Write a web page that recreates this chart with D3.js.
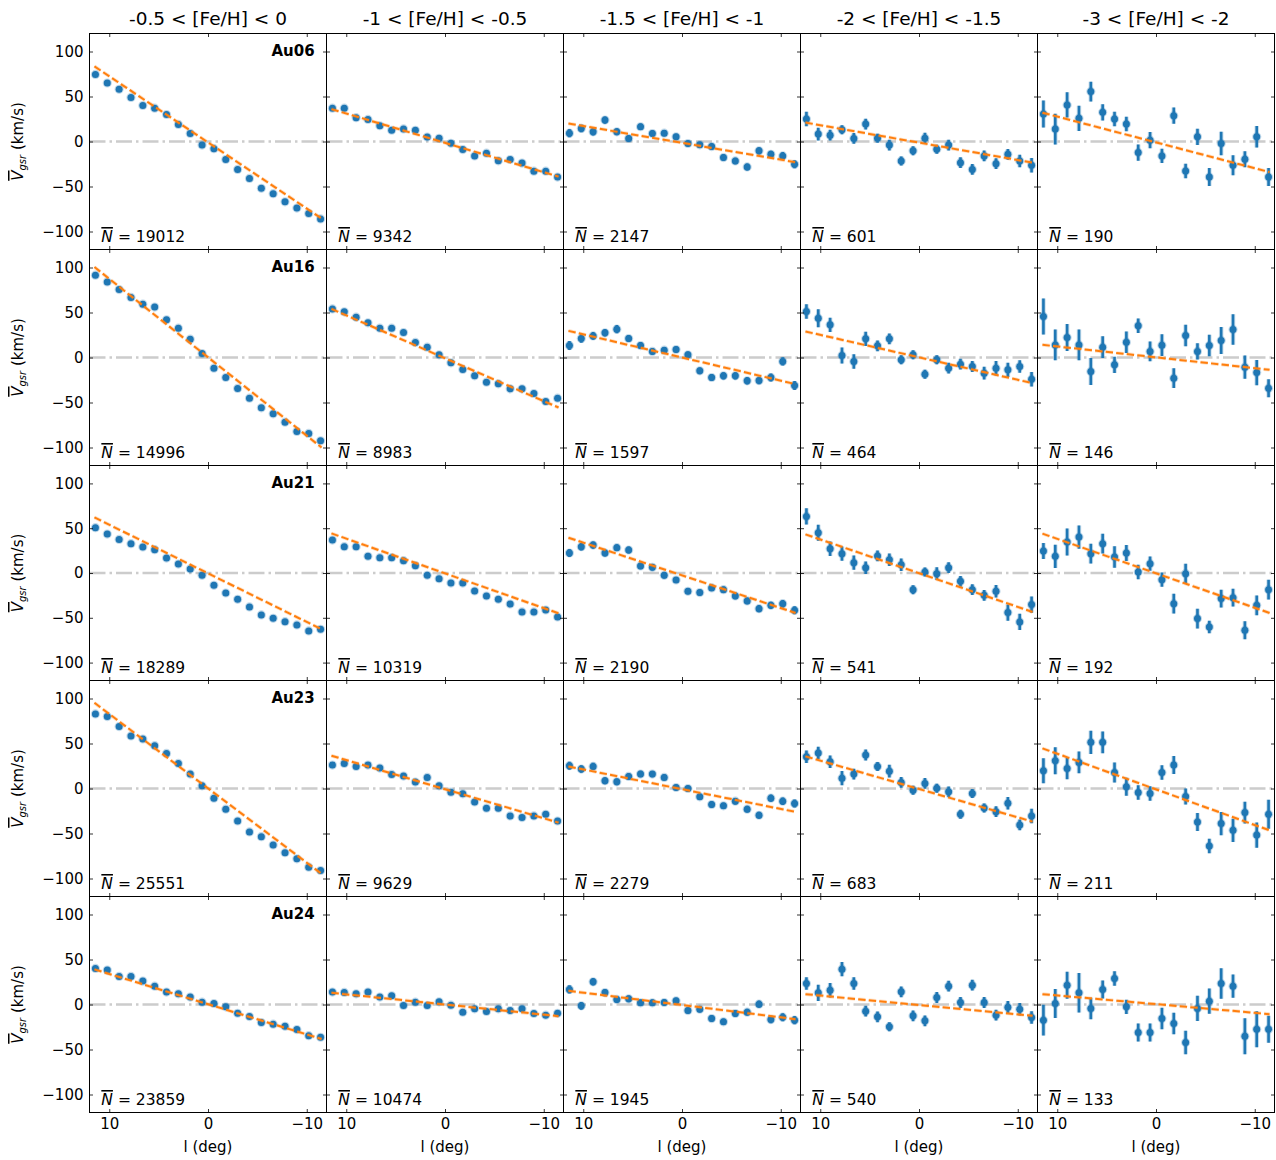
<!DOCTYPE html>
<html>
<head>
<meta charset="utf-8">
<script src="https://cdn.jsdelivr.net/npm/d3@7"></script>
<style>
  body { margin: 0; background: #fff; }
  svg { display: block; }
  text { font-family: "DejaVu Sans", sans-serif; fill: #000; }
</style>
</head>
<body>
<div id="chart"></div>
<script>
// Metallicity bins (columns) and haloes (rows)
const feBins = ["-0.5 < [Fe/H] < 0", "-1 < [Fe/H] < -0.5", "-1.5 < [Fe/H] < -1", "-2 < [Fe/H] < -1.5", "-3 < [Fe/H] < -2"];
const haloNames = ["Au06", "Au16", "Au21", "Au23", "Au24"];

// Galactic longitude bin centres (deg)
const lonBins = [11.4, 10.2, 9.0, 7.8, 6.6, 5.4, 4.2, 3.0, 1.8, 0.6, -0.6, -1.8, -3.0, -4.2, -5.4, -6.6, -7.8, -9.0, -10.2, -11.4];

// Mean number of stars per panel
const starCounts = [
  [19012, 9342, 2147, 601, 190],
  [14996, 8983, 1597, 464, 146],
  [18289, 10319, 2190, 541, 192],
  [25551, 9629, 2279, 683, 211],
  [23859, 10474, 1945, 540, 133]
];

// Mean galactocentric velocity per bin (km/s), one array per metallicity bin
const vAu06 = [
  [74.5, 65, 58, 49, 40, 37, 30, 19, 9, -4, -8, -20, -31, -41, -52, -58, -67, -74, -80, -86],
  [37, 37, 26.5, 24.5, 17.5, 12.5, 14, 12.5, 5, 3.5, -2, -9, -16, -13, -21.5, -20, -24, -33, -33, -39.5],
  [9.3, 14.5, 10.8, 23.8, 10.8, 3.4, 16.4, 8.9, 9.3, 5.2, -2.2, -3.7, -5.6, -17.9, -21.6, -28.3, -10.4, -14.2, -16, -25.3],
  [25, 8.2, 7, 13, 3.4, 19.4, 3.7, -4, -21.6, -10.4, 3.7, -8.6, -4, -23.5, -31, -16, -24.6, -14.2, -21.6, -26.4],
  [30.5, 13.8, 40.6, 25.7, 55.5, 32.4, 25, 19.4, -12.3, 1.5, -16, 28.7, -32.8, 5.2, -39.5, -2.2, -26.4, -19.7, 5.2, -39.5]
];
const vAu16 = [
  [91.5, 84, 75.5, 66.7, 59.3, 56, 41.9, 32.6, 20.4, 4.4, -11.9, -22.2, -34.4, -45.2, -55.9, -62.6, -71.9, -82.2, -84.4, -92.6],
  [54, 50.7, 44.8, 38.5, 32.6, 32.6, 27.8, 16.7, 11.5, 3, -5.9, -13.3, -20.4, -27.4, -29.3, -34.8, -34.8, -40, -48.9, -45.2],
  [13.3, 21.1, 24, 27.4, 31.5, 21.1, 13.3, 6.7, 8.1, 8.9, 3, -14.8, -22.2, -20.4, -20.4, -25.9, -25.6, -22.2, -4.4, -31.1],
  [51.1, 43.7, 36.3, 2.2, -4.4, 20.7, 13, 20.7, -2.6, 3, -18.5, -2.6, -11.9, -7.4, -10, -17.4, -11.9, -13.7, -10, -24.1],
  [45.6, 14, 22.2, 14, -15.6, 11.5, -8.1, 17, 35.2, 6.7, 13.7, -23, 24.4, 6.7, 13.3, 18.9, 31.1, -10.7, -16.7, -34.1]
];
const vAu21 = [
  [50.6, 43.5, 37.5, 32.7, 29, 26, 16.7, 10, 4.5, -2.6, -13.8, -22.3, -29.4, -37.9, -46.8, -50.6, -54.3, -58, -64.7, -62.8],
  [36.8, 29.4, 29.4, 18.6, 17.1, 17.1, 13.8, 8.2, -2.6, -6.3, -11.2, -11.2, -20.1, -25.7, -29.4, -34.6, -43.5, -43.5, -41.3, -49.1],
  [22.3, 29.4, 31.2, 22.3, 28.3, 25.7, 7.8, 6.3, -2.6, -7.8, -20.4, -21.9, -16.7, -18.6, -25.7, -31.2, -39.8, -36.1, -34.2, -41.6],
  [63.2, 45, 27.1, 21.6, 11.5, 5.9, 19, 14.9, 9.3, -18.6, 1.1, -0.7, 5.9, -9.3, -18.6, -24.9, -20.4, -44.2, -54.6, -35.3],
  [24.5, 18.6, 34.6, 40.1, 21.6, 32.7, 17.8, 22.3, 1.1, 10.4, -7.4, -34.2, -0.7, -50.9, -60.2, -28.6, -27.5, -63.9, -36.1, -18.6]
];
const vAu23 = [
  [82.9, 79.9, 68.8, 58.4, 55, 47.6, 39, 27.9, 16, 3, -10.8, -23, -36.1, -48.3, -53.5, -62.8, -71.4, -78.1, -87.4, -91.1],
  [26, 27.9, 24.5, 26, 22.7, 15.6, 13.8, 7.1, 12.3, 3, -4.1, -5.9, -14.9, -21.9, -21.9, -30.5, -32.3, -30.5, -28.6, -36.1],
  [25.3, 21.6, 24.5, 8.6, 7.4, 13.4, 16, 16, 12.3, 1.1, 0, -9.3, -17.8, -19.3, -14.1, -23, -29.7, -10.8, -14.1, -16.7],
  [35.3, 39.4, 29.7, 11.5, 16, 37.2, 24.5, 19.3, 6.7, -1.9, 5.6, 0.4, -3.7, -28.6, -5.6, -21.6, -25.7, -16.4, -40.5, -30.5],
  [19.7, 30.9, 22.3, 29, 51.3, 51.3, 17.8, 1.9, -4.5, -5.6, 17.8, 26, -8.9, -37.2, -63.9, -39, -46.5, -26.8, -51.7, -28.6]
];
const vAu24 = [
  [40.1, 38.3, 31.2, 31.2, 26, 20.4, 13.8, 11.9, 8.2, 2.6, 1.1, -2.6, -9.7, -13.4, -20.1, -21.9, -24.2, -27.9, -34.6, -36.4],
  [13.8, 13.4, 11.9, 13.8, 8.2, 9.7, -1.1, 2.6, -1.1, 3, -0.7, -8.6, -4.8, -7.8, -4.8, -6.7, -4.8, -10, -11.9, -9.7],
  [16.7, -1.5, 25.2, 13.3, 5.6, 6.3, 1.9, 1.9, 2.2, 4.1, -6.7, -5.2, -15.6, -19.3, -10, -8.5, 0.4, -16.7, -14.1, -17.4],
  [23.3, 13, 15.9, 39.3, 23.3, -7.4, -13.7, -24.8, 14.1, -12.6, -18.1, 7.8, 20.4, 2.2, 21.5, 2.2, -11.9, -3, -5.2, -14.4],
  [-17.4, 1.1, 21.5, 13, -4.4, 16.7, 28.9, -2.6, -31.1, -31.1, -15.6, -21.1, -42.2, -4.4, 3.7, 23.3, 20.4, -35.2, -27.4, -27.4]
];

// Uncertainty on the mean velocity (km/s)
const errAu06 = [
  [1.2, 1.2, 1.1, 1.1, 1.1, 1.0, 1.0, 1.0, 1.0, 1.0, 1.0, 1.0, 1.0, 1.0, 1.0, 1.1, 1.1, 1.1, 1.2, 1.2],
  [2.0, 1.9, 1.8, 1.8, 1.7, 1.7, 1.6, 1.6, 1.6, 1.6, 1.6, 1.6, 1.6, 1.6, 1.7, 1.7, 1.8, 1.8, 1.9, 2.0],
  [4.5, 4.2, 4.0, 4.0, 3.8, 3.6, 3.6, 3.5, 3.5, 3.4, 3.4, 3.5, 3.5, 3.6, 3.6, 3.8, 4.0, 4.0, 4.2, 4.5],
  [8, 7, 6, 5, 6, 6, 5, 6, 5, 5, 6, 5, 6, 6, 6, 6, 6, 6, 7, 8],
  [15, 17, 14, 14, 11, 9, 8, 8, 9, 9, 8, 9, 8, 9, 10, 13, 11, 9, 12, 10]
];
const errAu16 = [
  [1.3, 1.2, 1.2, 1.1, 1.1, 1.0, 1.0, 1.0, 1.0, 1.0, 1.0, 1.0, 1.0, 1.0, 1.0, 1.1, 1.1, 1.2, 1.2, 1.3],
  [2.0, 1.9, 1.8, 1.8, 1.7, 1.7, 1.6, 1.6, 1.6, 1.6, 1.6, 1.6, 1.6, 1.6, 1.7, 1.7, 1.8, 1.8, 1.9, 2.0],
  [5.0, 4.6, 4.4, 4.2, 4.6, 4.0, 3.8, 3.6, 3.6, 3.6, 3.6, 3.8, 3.8, 4.0, 4.0, 4.2, 4.2, 4.4, 4.6, 5.0],
  [8, 10, 8, 9, 8, 8, 6, 6, 5, 5, 5, 5, 6, 6, 6, 7, 8, 8, 7, 8],
  [20, 17, 15, 17, 15, 12, 9, 12, 8, 11, 12, 11, 12, 9, 12, 15, 17, 13, 14, 10]
];
const errAu21 = [
  [1.2, 1.2, 1.1, 1.1, 1.0, 1.0, 1.0, 1.0, 1.0, 1.0, 1.0, 1.0, 1.0, 1.0, 1.0, 1.0, 1.1, 1.1, 1.2, 1.2],
  [2.0, 1.9, 1.8, 1.8, 1.7, 1.7, 1.6, 1.6, 1.6, 1.6, 1.6, 1.6, 1.6, 1.6, 1.7, 1.7, 1.8, 1.8, 1.9, 2.0],
  [4.4, 4.2, 4.0, 4.0, 3.8, 3.8, 3.6, 3.5, 3.5, 3.4, 3.4, 3.5, 3.5, 3.6, 3.6, 3.8, 4.0, 4.0, 4.2, 4.4],
  [9, 9, 8, 8, 8, 7, 6, 7, 7, 5, 5, 7, 6, 6, 6, 6, 7, 9, 9, 9],
  [9, 13, 15, 13, 11, 11, 12, 9, 8, 8, 8, 11, 11, 11, 7, 10, 10, 10, 11, 11]
];
const errAu23 = [
  [1.2, 1.1, 1.1, 1.0, 1.0, 1.0, 0.9, 0.9, 0.9, 0.9, 0.9, 0.9, 0.9, 0.9, 1.0, 1.0, 1.0, 1.1, 1.1, 1.2],
  [2.0, 1.9, 1.8, 1.8, 1.7, 1.7, 1.6, 1.6, 1.6, 1.6, 1.6, 1.6, 1.6, 1.6, 1.7, 1.7, 1.8, 1.8, 1.9, 2.0],
  [4.4, 4.2, 4.0, 4.0, 3.8, 3.6, 3.6, 3.5, 3.5, 3.4, 3.4, 3.5, 3.5, 3.6, 3.6, 3.8, 4.0, 4.0, 4.2, 4.4],
  [7, 7, 7, 8, 6, 6, 5, 7, 6, 5, 6, 5, 6, 5, 5, 5, 6, 7, 6, 8],
  [14, 15, 12, 12, 13, 12, 11, 10, 8, 8, 8, 10, 9, 10, 8, 13, 13, 12, 14, 16]
];
const errAu24 = [
  [1.2, 1.1, 1.1, 1.0, 1.0, 1.0, 0.9, 0.9, 0.9, 0.9, 0.9, 0.9, 0.9, 0.9, 1.0, 1.0, 1.0, 1.1, 1.1, 1.2],
  [1.8, 1.8, 1.7, 1.7, 1.6, 1.6, 1.5, 1.5, 1.5, 1.5, 1.5, 1.5, 1.5, 1.5, 1.6, 1.6, 1.7, 1.7, 1.8, 1.8],
  [4.6, 4.4, 4.2, 4.0, 3.8, 3.8, 3.6, 3.6, 3.6, 3.5, 3.5, 3.6, 3.6, 3.6, 3.8, 3.8, 4.0, 4.2, 4.4, 4.6],
  [7, 9, 8, 8, 7, 6, 6, 5, 6, 6, 6, 6, 6, 6, 6, 6, 6, 7, 7, 7],
  [17, 16, 15, 22, 12, 10, 8, 8, 10, 10, 12, 12, 13, 14, 14, 17, 13, 20, 20, 15]
];

// Linear fit: velocity at the two ends of fitLon, per metallicity bin
const fitLon = [11.5, -11.5];
const fitAu06 = [[83.5, -85.5], [36, -39], [20, -23], [21, -23.5], [32, -34]];
const fitAu16 = [[100.5, -100], [54, -55.6], [29.6, -29.6], [28.9, -28.5], [14.1, -13.7]];
const fitAu21 = [[62, -62.8], [44.2, -45], [39.4, -44.6], [43.1, -43.5], [43.9, -44.6]];
const fitAu23 = [[95.2, -94.8], [36.4, -37.9], [24.5, -26], [35.7, -36.8], [44.6, -46.5]];
const fitAu24 = [[39, -38.3], [13, -13], [15.2, -16.3], [11.5, -12.6], [11.5, -10.7]];

const meanV = [vAu06, vAu16, vAu21, vAu23, vAu24];
const meanErr = [errAu06, errAu16, errAu21, errAu23, errAu24];
const fits = [fitAu06, fitAu16, fitAu21, fitAu23, fitAu24];

// Axis ticks and limits
const xTicks = [10, 0, -10];
const yTicks = [100, 50, 0, -50, -100];
const lonLimits = [12, -12];
const vLimits = [-120, 120];

// ---- drawing ----
const W = 1276, H = 1160;
const gridLeft = 89.5, gridTop = 33.5, cellW = 236.9, cellH = 215.8;
const blue = "#1f77b4", orange = "#ff7f0e";

const svg = d3.select("#chart").append("svg")
  .attr("width", W).attr("height", H).attr("viewBox", `0 0 ${W} ${H}`);
svg.append("rect").attr("width", W).attr("height", H).attr("fill", "#fff");

const defs = svg.append("defs");

const colX = c => gridLeft + Math.round(c * cellW);
const rowY = r => gridTop + Math.round(r * cellH);

haloNames.forEach((halo, r) => {
  feBins.forEach((bin, c) => {
    const x0 = colX(c), x1 = colX(c + 1);
    const y0 = rowY(r), y1 = rowY(r + 1);
    const x = d3.scaleLinear().domain(lonLimits).range([x0, x1]);
    const y = d3.scaleLinear().domain(vLimits).range([y1, y0]);

    const clipId = `clip-${r}-${c}`;
    defs.append("clipPath").attr("id", clipId)
      .append("rect").attr("x", x0).attr("y", y0).attr("width", x1 - x0).attr("height", y1 - y0);

    const g = svg.append("g");
    const plot = g.append("g").attr("clip-path", `url(#${clipId})`);

    // zero-velocity reference line
    plot.append("line")
      .attr("x1", x(lonLimits[0])).attr("x2", x(lonLimits[1]))
      .attr("y1", y(0)).attr("y2", y(0))
      .attr("stroke", "#cccccc").attr("stroke-width", 2.5)
      .attr("stroke-dasharray", "16,4,2.5,4");

    const pts = lonBins.map((l, i) => ({ l, v: meanV[r][c][i], e: meanErr[r][c][i] }));

    // error bars (soft halo underneath, then the bar)
    plot.selectAll("line.eh").data(pts).join("line").attr("class", "eh")
      .attr("x1", d => x(d.l)).attr("x2", d => x(d.l))
      .attr("y1", d => y(d.v - d.e)).attr("y2", d => y(d.v + d.e))
      .attr("stroke", blue).attr("stroke-opacity", 0.25).attr("stroke-width", 4.5);
    plot.selectAll("line.eb").data(pts).join("line").attr("class", "eb")
      .attr("x1", d => x(d.l)).attr("x2", d => x(d.l))
      .attr("y1", d => y(d.v - d.e)).attr("y2", d => y(d.v + d.e))
      .attr("stroke", blue).attr("stroke-width", 2.6);

    // mean velocity markers
    plot.selectAll("circle").data(pts).join("circle")
      .attr("cx", d => x(d.l)).attr("cy", d => y(d.v)).attr("r", 3.5)
      .attr("fill", blue).attr("stroke", blue)
      .attr("stroke-opacity", 0.28).attr("stroke-width", 2.2);

    // linear fit
    const fit = fits[r][c];
    plot.append("line")
      .attr("x1", x(fitLon[0])).attr("x2", x(fitLon[1]))
      .attr("y1", y(fit[0])).attr("y2", y(fit[1]))
      .attr("stroke", orange).attr("stroke-opacity", 0.25).attr("stroke-width", 3.6)
      .attr("stroke-dasharray", "7.4,3.2");
    plot.append("line")
      .attr("x1", x(fitLon[0])).attr("x2", x(fitLon[1]))
      .attr("y1", y(fit[0])).attr("y2", y(fit[1]))
      .attr("stroke", orange).attr("stroke-width", 2)
      .attr("stroke-dasharray", "7.4,3.2");

    // inward ticks on all four sides
    const tl = 3.5;
    const tickAxes = [
      [d3.axisRight(y).tickValues(yTicks), `translate(${x0},0)`],
      [d3.axisLeft(y).tickValues(yTicks), `translate(${x1},0)`],
      [d3.axisBottom(x).tickValues(xTicks), `translate(0,${y0})`],
      [d3.axisTop(x).tickValues(xTicks), `translate(0,${y1})`]
    ];
    tickAxes.forEach(([ax, tr]) => {
      const a = g.append("g").attr("transform", tr)
        .call(ax.tickSize(tl).tickFormat(""));
      a.select(".domain").remove();
      a.selectAll("line").attr("stroke", "#000").attr("stroke-width", 0.8);
    });

    // tick labels on outer panels
    if (c === 0) {
      const a = g.append("g").attr("transform", `translate(${x0},0)`)
        .call(d3.axisLeft(y).tickValues(yTicks).tickSize(0).tickPadding(6));
      a.select(".domain").remove();
      a.selectAll("text").attr("font-size", 15).attr("font-family", "DejaVu Sans").attr("fill", "#222");
    }
    if (r === haloNames.length - 1) {
      const a = g.append("g").attr("transform", `translate(0,${y1})`)
        .call(d3.axisBottom(x).tickValues(xTicks).tickSize(0).tickPadding(6));
      a.select(".domain").remove();
      a.selectAll("text").attr("font-size", 15).attr("font-family", "DejaVu Sans").attr("fill", "#222");
      g.append("text")
        .attr("x", (x0 + x1) / 2).attr("y", 1152)
        .attr("text-anchor", "middle").attr("font-size", 15).attr("fill", "#222")
        .text("l (deg)");
    }

    // frame
    g.append("rect")
      .attr("x", x0).attr("y", y0).attr("width", x1 - x0).attr("height", y1 - y0)
      .attr("fill", "none").attr("stroke", "#000").attr("stroke-width", 1);

    // star count label
    const nt = g.append("text")
      .attr("x", x0 + 0.05 * (x1 - x0)).attr("y", y1 - 7.5)
      .attr("font-size", 15.5).attr("fill", "#222");
    nt.append("tspan").attr("font-style", "italic")
      .style("text-decoration", "overline").text("N");
    nt.append("tspan").text(" = " + starCounts[r][c]);

    // halo name
    if (c === 0) {
      g.append("text")
        .attr("x", x0 + 0.95 * (x1 - x0)).attr("y", y0 + 22.5)
        .attr("text-anchor", "end").attr("font-size", 15).attr("font-weight", "bold")
        .text(halo);
    }

    // column titles
    if (r === 0) {
      g.append("text")
        .attr("x", (x0 + x1) / 2).attr("y", 24.5)
        .attr("text-anchor", "middle").attr("font-size", 18.5).attr("fill", "#222")
        .text(bin);
    }
  });

  // y-axis label per row
  const cy = (rowY(r) + rowY(r + 1)) / 2;
  const yl = svg.append("text")
    .attr("transform", `translate(23,${cy}) rotate(-90)`)
    .attr("text-anchor", "middle").attr("font-size", 15).attr("fill", "#222");
  yl.append("tspan").attr("font-style", "italic").style("text-decoration", "overline").text("V");
  yl.append("tspan").attr("font-style", "italic").attr("font-size", 10).attr("dy", 3).text("gsr");
  yl.append("tspan").attr("dy", -3).text(" (km/s)");
});
</script>
</body>
</html>
